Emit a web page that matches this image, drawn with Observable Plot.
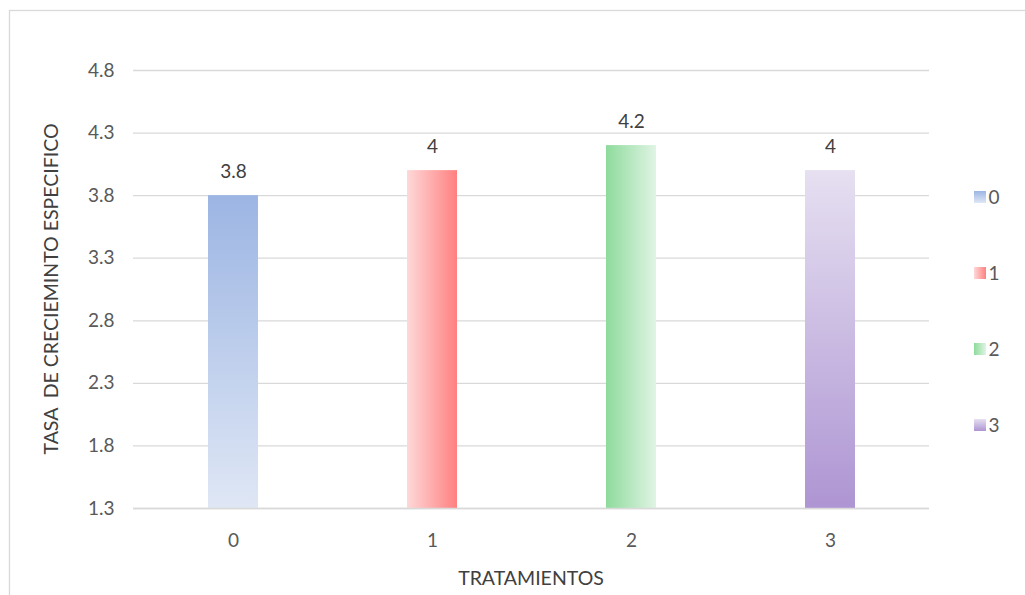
<!DOCTYPE html>
<html>
<head>
<meta charset="utf-8">
<script src="https://cdn.jsdelivr.net/npm/d3@7"></script>
<script src="https://cdn.jsdelivr.net/npm/@observablehq/plot@0.6"></script>
<style>
  html, body { margin: 0; padding: 0; background: #fff; }
  #chart { position: relative; width: 1025px; height: 595px; overflow: hidden; }
  svg text { white-space: pre; }
</style>
</head>
<body>
<div id="chart"></div>
<script>
// Treatments and their specific growth rate
const tratamientos = ["0", "1", "2", "3"];
const tasa = [3.8, 4.0, 4.2, 4.0];
const yTicks = [1.3, 1.8, 2.3, 2.8, 3.3, 3.8, 4.3, 4.8];

// Gradient fill for each treatment: [id, direction, start colour, end colour]
const gradients = [
  ["g0", "vertical", "#9CB5E3", "#DFE7F5"],
  ["g1", "horizontal", "#FED8D8", "#FF8080"],
  ["g2", "horizontal", "#8EDB9C", "#E0F4E4"],
  ["g3", "vertical", "#E6E0F1", "#AE95D3"]
];

const data = tratamientos.map((t, i) => ({t, v: tasa[i], fill: `url(#${gradients[i][0]})`}));

const font = "Lato, 'Open Sans', sans-serif";
const W = 1025, H = 595;
const mL = 133, mR = 96, mT = 70, mB = 87;

const plot = Plot.plot({
  width: W,
  height: H,
  marginLeft: mL,
  marginRight: mR,
  marginTop: mT,
  marginBottom: mB,
  style: {fontFamily: font, fontSize: "19px", color: "#595959", background: "#fff"},
  x: {domain: tratamientos, paddingInner: 0.75, paddingOuter: 0.375, label: null},
  y: {domain: [1.3, 4.8], ticks: yTicks, label: null},
  marks: [
    Plot.gridY(yTicks, {stroke: "#D9D9D9", strokeOpacity: 1, strokeWidth: 1.3}),
    ...data.map(d => Plot.barY([d], {x: "t", y1: 1.3, y2: "v", fill: d.fill})),
    Plot.ruleY([1.3], {stroke: "#D9D9D9", strokeWidth: 1.5}),
    Plot.text(data, {x: "t", y: "v", text: d => String(d.v), dy: -24, fill: "#404040", fontSize: 19}),
    Plot.axisY(yTicks, {tickSize: 0, tickPadding: 19, tickFormat: d => d.toFixed(1), fontSize: 19, fill: "#595959", label: null}),
    Plot.axisX({tickSize: 0, tickPadding: 25, fontSize: 19, fill: "#595959", label: null})
  ]
});

const svg = d3.select(plot);

// Gradient definitions
const defs = svg.insert("defs", ":first-child");
for (const [id, dir, c0, c1] of gradients) {
  const g = defs.append("linearGradient").attr("id", id)
    .attr("x1", 0).attr("y1", 0)
    .attr("x2", dir === "horizontal" ? 1 : 0)
    .attr("y2", dir === "vertical" ? 1 : 0);
  g.append("stop").attr("offset", "0%").attr("stop-color", c0);
  g.append("stop").attr("offset", "100%").attr("stop-color", c1);
}

// Outer chart border
svg.insert("rect", "defs + *")
  .attr("x", 9.5).attr("y", 10.5).attr("width", W + 20).attr("height", H + 20)
  .attr("fill", "none").attr("stroke", "#D9D9D9").attr("stroke-width", 1.3);

// Axis titles
svg.append("text")
  .attr("transform", `translate(58, ${(mT + (H - mB)) / 2}) rotate(-90)`)
  .attr("text-anchor", "middle")
  .attr("fill", "#404040").attr("font-size", 19.5).attr("font-family", font)
  .text("TASA  DE CRECIEMINTO ESPECIFICO");

svg.append("text")
  .attr("x", (mL + (W - mR)) / 2).attr("y", 585)
  .attr("text-anchor", "middle")
  .attr("fill", "#404040").attr("font-size", 19.5).attr("font-family", font)
  .text("TRATAMIENTOS");

// Legend
const legend = svg.append("g").attr("font-family", font).attr("fill", "#595959");
tratamientos.forEach((t, i) => {
  const cy = 197 + i * 76;
  legend.append("rect").attr("x", 974).attr("y", cy - 6).attr("width", 12).attr("height", 12)
    .attr("fill", `url(#${gradients[i][0]})`);
  legend.append("text").attr("x", 994).attr("y", cy).attr("dy", "0.36em")
    .style("font-size", "19px").text(t);
});

document.getElementById("chart").appendChild(plot);
</script>
</body>
</html>
